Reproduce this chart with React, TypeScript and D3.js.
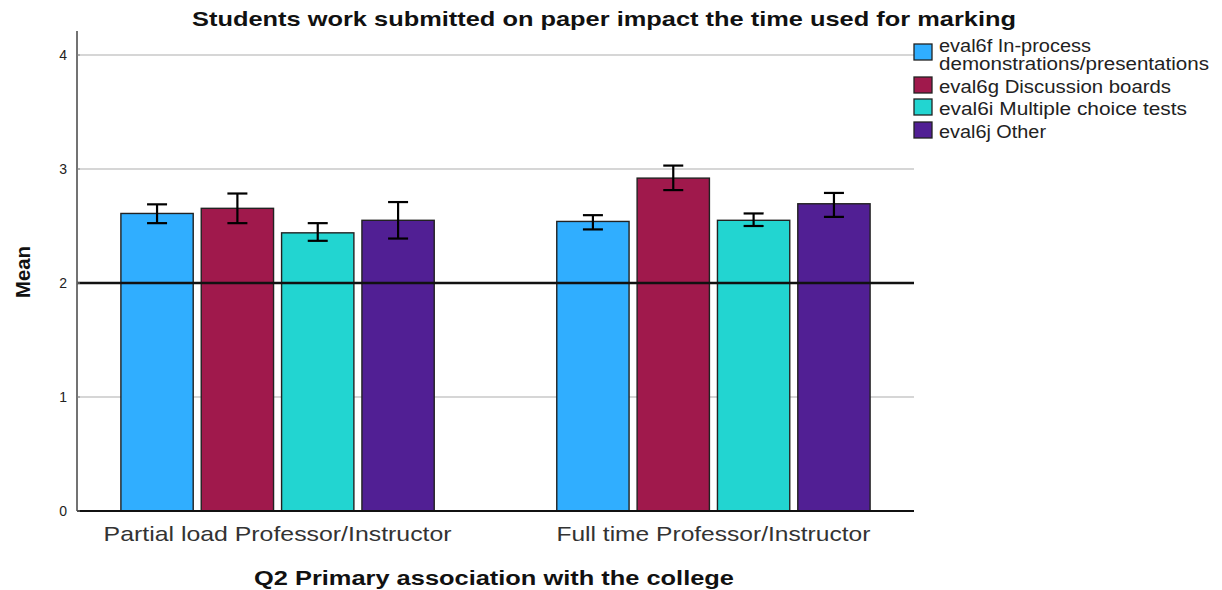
import React from "react";
import * as d3 from "d3";

const categories = ["Partial load Professor/Instructor", "Full time Professor/Instructor"];
const seriesNames = [
  "eval6f In-process demonstrations/presentations",
  "eval6g Discussion boards",
  "eval6i Multiple choice tests",
  "eval6j Other",
];
const legendLines = [
  ["eval6f In-process", "demonstrations/presentations"],
  ["eval6g Discussion boards"],
  ["eval6i Multiple choice tests"],
  ["eval6j Other"],
];
const seriesColors = ["#30AEFF", "#A0194C", "#22D5D1", "#511F94"];
// means [series][category]
const meanValues = [
  [2.61, 2.54],
  [2.655, 2.92],
  [2.44, 2.55],
  [2.55, 2.695],
];
const ciLow = [
  [2.525, 2.47],
  [2.525, 2.815],
  [2.37, 2.5],
  [2.39, 2.58],
];
const ciHigh = [
  [2.69, 2.595],
  [2.785, 3.03],
  [2.525, 2.61],
  [2.71, 2.79],
];
const yTicks = [0, 1, 2, 3, 4];
const referenceValue = 2;

const W = 1222;
const H = 590;
const left = 77;
const right = 914;
const y0px = 511;
const y4px = 55;

// widths of text as drawn in the reference
const catTextLen = [348, 314];
const legendTextLen = [[152, 270], [232], [248], [107]];
const legendTops = [44, 77, 99, 122];
const legendBaselines = [[52, 70], [93], [115], [138]];

export default function App() {
  const y = d3.scaleLinear().domain([0, 4]).range([y0px, y4px]);
  const x0 = d3.scaleBand<string>().domain(categories).range([left, right]).paddingInner(0.2627).paddingOuter(0.0915);
  const x1 = d3.scaleBand<string>().domain(seriesNames).range([0, x0.bandwidth()]).paddingInner(0.1).paddingOuter(0.05);
  const font = "'Liberation Sans', Arial, sans-serif";

  return (
    <svg width={W} height={H} style={{ position: "absolute", left: 0, top: 0, background: "#fff" }} fontFamily={font}>
      {/* gridlines */}
      {yTicks.filter((t) => t !== 0 && t !== referenceValue).map((t) => (
        <line key={"g" + t} x1={left} x2={right} y1={y(t)} y2={y(t)} stroke="#C8C8C8" strokeWidth={1.3} />
      ))}
      {/* bars */}
      {categories.map((c, ci) =>
        seriesNames.map((s, si) => {
          const bx = (x0(c) as number) + (x1(s) as number);
          const v = meanValues[si][ci];
          return (
            <rect key={c + s} x={bx} y={y(v)} width={x1.bandwidth()} height={y(0) - y(v)}
              fill={seriesColors[si]} stroke="#222" strokeWidth={1.4} />
          );
        })
      )}
      {/* reference line */}
      <line x1={left} x2={right} y1={y(referenceValue)} y2={y(referenceValue)} stroke="#111" strokeWidth={2.5} />
      {/* error bars */}
      {categories.map((c, ci) =>
        seriesNames.map((s, si) => {
          const cx = (x0(c) as number) + (x1(s) as number) + x1.bandwidth() / 2;
          const lo = y(ciLow[si][ci]);
          const hi = y(ciHigh[si][ci]);
          return (
            <g key={"e" + c + s} stroke="#000" strokeWidth={2.2}>
              <line x1={cx} x2={cx} y1={lo} y2={hi} />
              <line x1={cx - 10} x2={cx + 10} y1={lo} y2={lo} />
              <line x1={cx - 10} x2={cx + 10} y1={hi} y2={hi} />
            </g>
          );
        })
      )}
      {/* axes */}
      <line x1={left} x2={left} y1={31} y2={y(0)} stroke="#444" strokeWidth={1.5} />
      <line x1={left} x2={right} y1={y(0)} y2={y(0)} stroke="#111" strokeWidth={2} />
      {yTicks.map((t) => (
        <g key={"t" + t}>
          <line x1={left} x2={left + 3} y1={y(t)} y2={y(t)} stroke="#888" strokeWidth={1} />
          <text x={67} y={y(t) + 5} textAnchor="end" fontSize={14} fill="#222">{t}</text>
        </g>
      ))}
      {categories.map((c, i) => (
        <text key={"c" + c} x={(x0(c) as number) + x0.bandwidth() / 2} y={541} textAnchor="middle"
          fontSize={21} fill="#333" textLength={catTextLen[i]} lengthAdjust="spacingAndGlyphs">{c}</text>
      ))}
      <text x={494} y={585} textAnchor="middle" fontSize={20} fontWeight="bold" fill="#111"
        textLength={480} lengthAdjust="spacingAndGlyphs">Q2 Primary association with the college</text>
      <text transform="translate(30,272) rotate(-90)" textAnchor="middle" fontSize={20} fontWeight="bold" fill="#111"
        textLength={52} lengthAdjust="spacingAndGlyphs">Mean</text>
      <text x={604} y={26} textAnchor="middle" fontSize={20.5} fontWeight="bold" fill="#111"
        textLength={824} lengthAdjust="spacingAndGlyphs">Students work submitted on paper impact the time used for marking</text>
      {/* legend */}
      {legendLines.map((lines, i) => (
        <g key={"l" + i}>
          <rect x={914} y={legendTops[i]} width={18} height={16} fill={seriesColors[i]} stroke="#222" strokeWidth={1.3} />
          {lines.map((ln, k) => (
            <text key={k} x={939} y={legendBaselines[i][k]} fontSize={17.5} fill="#222"
              textLength={legendTextLen[i][k]} lengthAdjust="spacingAndGlyphs">{ln}</text>
          ))}
        </g>
      ))}
    </svg>
  );
}
